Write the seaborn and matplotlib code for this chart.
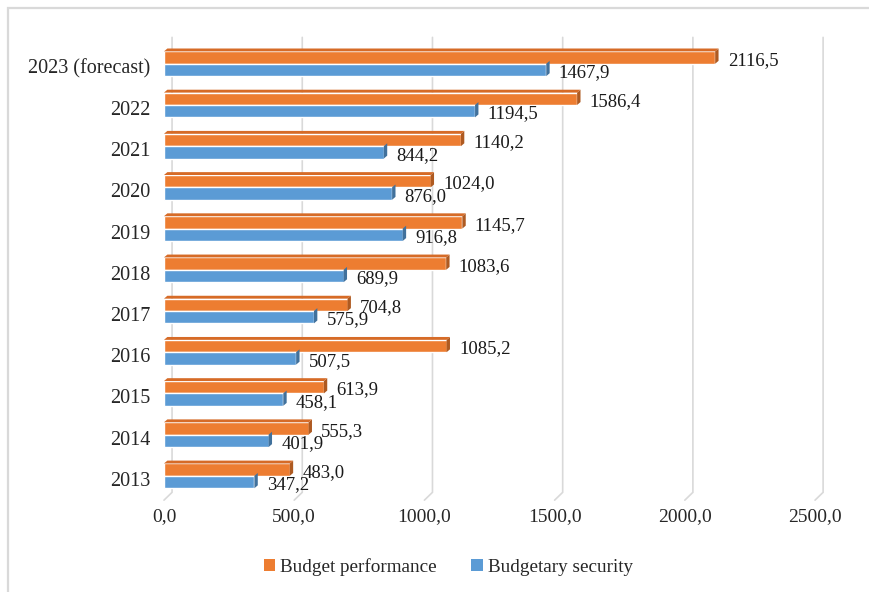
import matplotlib
matplotlib.use("Agg")
import matplotlib.pyplot as plt
from matplotlib.patches import Patch, Polygon, Rectangle
from matplotlib.ticker import FuncFormatter
from matplotlib.transforms import ScaledTranslation
import seaborn as sns
import pandas as pd

# --- data ---
years = ['2023 (forecast)', '2022', '2021', '2020', '2019', '2018',
         '2017', '2016', '2015', '2014', '2013']
performance = [2116.5, 1586.4, 1140.2, 1024.0, 1145.7, 1083.6,
               704.8, 1085.2, 613.9, 555.3, 483.0]
security = [1467.9, 1194.5, 844.2, 876.0, 916.8, 689.9,
            575.9, 507.5, 458.1, 401.9, 347.2]
series = ['Budget performance', 'Budgetary security']
xticks = [0, 500, 1000, 1500, 2000, 2500]
colors = ['#ED7D31', '#5B9BD5']
dark = ['#AE5A21', '#41719C']
topface = ['#D66B27', '#4F8BC2']

df = pd.DataFrame({
    'year': years * 2,
    'value': performance + security,
    'series': [series[0]] * len(years) + [series[1]] * len(years),
})

sns.set_style("white")
plt.rcParams['font.family'] = ['Liberation Serif', 'DejaVu Serif']

fig = plt.figure(figsize=(8.69, 5.92), dpi=100)
ax = fig.add_axes([0.1887, 0.160, 0.7492, 0.772])

sns.barplot(data=df, x='value', y='year', hue='series', order=years,
            hue_order=series, palette=colors, orient='h', width=0.6,
            legend=False, ax=ax, saturation=1, zorder=3)

ax.set_xlim(0, 2500)
ax.set_ylim(10.52, -0.57)
ax.set_xticks(xticks)
ax.xaxis.set_major_formatter(FuncFormatter(lambda v, p: f"{v:.1f}".replace('.', ',')))
ax.set_xlabel('')
ax.set_ylabel('')
ax.grid(False)
for s in ax.spines.values():
    s.set_visible(False)
ax.tick_params(axis='both', length=0)
ax.tick_params(axis='x', pad=8, labelsize=14)
ax.tick_params(axis='y', pad=10, labelsize=14.5)
shift = ScaledTranslation(0, -3 / 100, fig.dpi_scale_trans)
for lab in ax.get_yticklabels():
    lab.set_transform(lab.get_transform() + shift)

# back-wall gridlines (pseudo 3D, bent at the floor)
back = 31      # data units (~8 px)
for t in xticks:
    ax.plot([t + back, t + back, t], [-0.64, 10.40, 10.59], color='#D9D9D9',
            lw=1.2, zorder=1, clip_on=False, solid_joinstyle='miter')

# little 3D end caps + value labels
dx = 13    # data units (~3.5 px)
dy = 0.07  # category units (~3 px)
for k, (cont, vals) in enumerate(zip(ax.containers, [performance, security])):
    for bar, v in zip(cont.patches, vals):
        y0 = bar.get_y()
        h = bar.get_height()
        w = bar.get_width()
        ax.add_patch(Polygon([(w, y0 + h), (w, y0), (w + dx, y0 - dy), (w + dx, y0 + h - dy)],
                             closed=True, facecolor=dark[k], edgecolor='none', zorder=4))
        if k == 0:
            ax.add_patch(Polygon([(0, y0), (w, y0), (w + dx, y0 - dy), (dx, y0 - dy)],
                                 closed=True, facecolor=topface[k], edgecolor='none', zorder=4))
        ax.annotate(f"{v:.1f}".replace('.', ','), (w, y0 + h / 2),
                    xytext=(9, -2), textcoords='offset points',
                    ha='left', va='center', fontsize=13.5, color='#1a1a1a', zorder=5)

handles = [Patch(facecolor=c, edgecolor='none') for c in colors]
fig.legend(handles, series, loc='center', bbox_to_anchor=(0.516, 0.042), ncol=2,
           frameon=False, fontsize=13.8, handlelength=0.6, handleheight=0.6,
           handletextpad=0.25, columnspacing=1.8)

# outer chart frame
fig.patches.append(Rectangle((8 / 869, -0.1), 1.2, 1 - 8 / 592 + 0.1,
                             transform=fig.transFigure, fill=False,
                             edgecolor='#D9D9D9', lw=1.6))

fig.savefig('out.png', dpi=100)
plt.close(fig)
